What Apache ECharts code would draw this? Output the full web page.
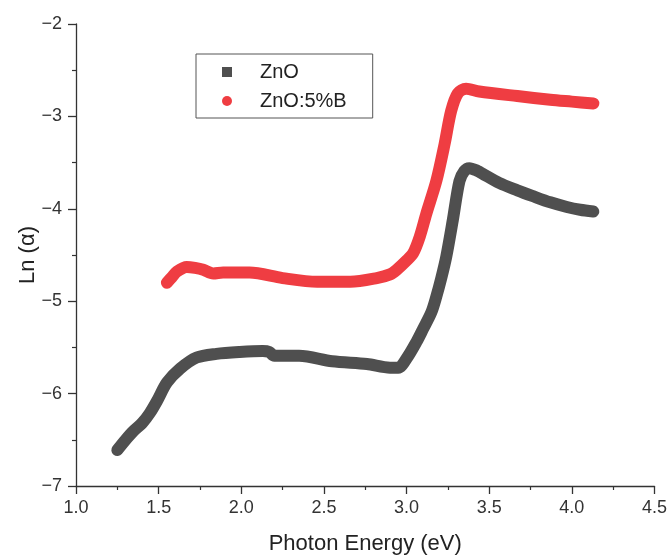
<!DOCTYPE html>
<html>
<head>
<meta charset="utf-8">
<script src="https://cdn.jsdelivr.net/npm/echarts@6/dist/echarts.min.js"></script>
<style>
html,body{margin:0;padding:0;background:#fff;}
#chart{width:670px;height:560px;}
</style>
</head>
<body>
<div id="chart"></div>
<script>
// Series: ZnO
const znoX = [1.25, 1.30, 1.345, 1.40, 1.447, 1.49, 1.55, 1.63, 1.73, 1.85, 1.99, 2.13, 2.17, 2.20, 2.35, 2.55, 2.76, 2.90, 2.95, 3.00, 3.06, 3.10, 3.15, 3.18, 3.21, 3.24, 3.28, 3.32, 3.35, 3.38, 3.43, 3.46, 3.56, 3.67, 3.76, 3.87, 3.97, 4.05, 4.13];
const znoY = [-6.61, -6.50, -6.41, -6.32, -6.21, -6.08, -5.88, -5.73, -5.61, -5.57, -5.55, -5.54, -5.55, -5.59, -5.59, -5.65, -5.68, -5.72, -5.72, -5.62, -5.44, -5.30, -5.12, -4.95, -4.75, -4.52, -4.12, -3.70, -3.59, -3.56, -3.59, -3.62, -3.72, -3.80, -3.86, -3.93, -3.98, -4.01, -4.03];
// Series: ZnO:5%B
const znobX = [1.55, 1.58, 1.61, 1.67, 1.72, 1.77, 1.83, 1.89, 2.05, 2.25, 2.46, 2.66, 2.82, 2.90, 2.94, 3.00, 3.04, 3.08, 3.12, 3.18, 3.23, 3.27, 3.31, 3.36, 3.44, 3.67, 3.87, 4.00, 4.13];
const znobY = [-4.80, -4.74, -4.68, -4.63, -4.64, -4.66, -4.70, -4.69, -4.69, -4.75, -4.79, -4.79, -4.75, -4.71, -4.66, -4.56, -4.48, -4.30, -4.05, -3.70, -3.30, -2.94, -2.75, -2.70, -2.73, -2.78, -2.82, -2.84, -2.86];
const seriesNames = ['ZnO', 'ZnO:5%B'];
const xTitle = 'Photon Energy (eV)';
const yTitle = 'Ln (\u03b1)';

const zip = (xs, ys) => xs.map((x, i) => [x, ys[i]]);
const FONT = '"Liberation Sans", Arial, sans-serif';
const colors = ['#4f4f4f', '#ef3d42'];

const chart = echarts.init(document.getElementById('chart'), null, {renderer: 'canvas'});
const axisCommon = {
  axisLine: {show: true, onZero: false, lineStyle: {color: '#333', width: 1.3}},
  axisTick: {show: true, inside: false, length: 8, lineStyle: {color: '#333', width: 1.3}},
  minorTick: {show: true, splitNumber: 2, length: 4, lineStyle: {color: '#333', width: 1.2}},
  splitLine: {show: false},
  minorSplitLine: {show: false}
};
chart.setOption({
  animation: false,
  backgroundColor: '#fff',
  color: colors,
  grid: {left: 76, right: 15, top: 24, bottom: 70},
  legend: {
    orient: 'vertical',
    left: 196, top: 54,
    padding: [8, 26, 7, 26],
    borderColor: '#555', borderWidth: 1,
    itemWidth: 10, itemHeight: 10, itemGap: 9,
    textStyle: {fontFamily: FONT, fontSize: 20, color: '#222', padding: [0, 0, 0, 23], lineHeight: 20},
    data: [{name: seriesNames[0], icon: 'rect'}, {name: seriesNames[1], icon: 'circle'}]
  },
  xAxis: Object.assign({
    type: 'value', min: 1, max: 4.5, interval: 0.5,
    name: xTitle, nameLocation: 'middle', nameGap: 47, nameMoveOverlap: false,
    nameTextStyle: {fontFamily: FONT, fontSize: 22, color: '#222'},
    axisLabel: {fontFamily: FONT, fontSize: 18, color: '#333', margin: 13, formatter: v => v.toFixed(1)}
  }, axisCommon),
  yAxis: Object.assign({
    type: 'value', min: -7, max: -2, interval: 1,
    name: yTitle, nameLocation: 'middle', nameGap: 37, nameRotate: 90, nameMoveOverlap: false,
    nameTextStyle: {fontFamily: FONT, fontSize: 22, color: '#222'},
    axisLabel: {fontFamily: FONT, fontSize: 18, color: '#333', margin: 14, formatter: v => String(v).replace('-', '\u2212')}
  }, axisCommon),
  series: [
    {name: seriesNames[0], type: 'line', data: zip(znoX, znoY), symbol: 'none', smooth: 0.3,
     lineStyle: {width: 12, color: colors[0], cap: 'round', join: 'round'}},
    {name: seriesNames[1], type: 'line', data: zip(znobX, znobY), symbol: 'none', smooth: 0.3,
     lineStyle: {width: 12, color: colors[1], cap: 'round', join: 'round'}}
  ]
});
</script>
</body>
</html>
